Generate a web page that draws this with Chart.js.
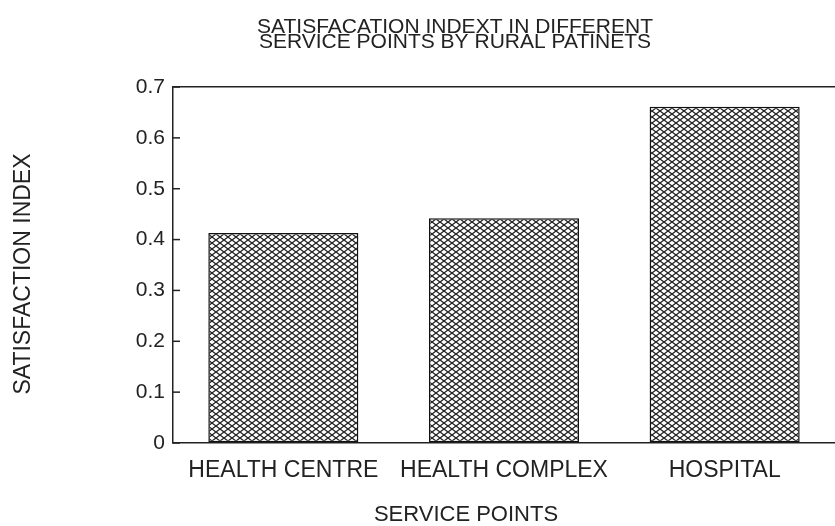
<!DOCTYPE html>
<html>
<head>
<meta charset="utf-8">
<script src="https://cdn.jsdelivr.net/npm/chart.js@4"></script>
<style>
  body { margin: 0; background: #fff; }
  canvas { display: block; }
</style>
</head>
<body>
<canvas id="chart" width="835" height="526"></canvas>
<script>
// values
const servicePoints = ['HEALTH CENTRE', 'HEALTH COMPLEX', 'HOSPITAL'];
const satisfactionIndex = [0.413, 0.442, 0.661];
const chartTitle = ['SATISFACATION INDEXT IN DIFFERENT', 'SERVICE POINTS BY RURAL PATINETS'];
const yTitle = 'SATISFACTION INDEX';
const xTitle = 'SERVICE POINTS';

const ink = '#222';
const fontFamily = '"Liberation Sans", Arial, sans-serif';

// cross hatch fill like the old printout
function makeHatch() {
  const tile = document.createElement('canvas');
  tile.width = 8;
  tile.height = 6;
  const c = tile.getContext('2d');
  c.fillStyle = '#fff';
  c.fillRect(0, 0, 8, 6);
  c.strokeStyle = '#222';
  c.lineWidth = 1.3;
  for (const dx of [-8, 0, 8]) {
    c.beginPath();
    c.moveTo(dx, 0); c.lineTo(dx + 8, 6);
    c.moveTo(dx, 6); c.lineTo(dx + 8, 0);
    c.stroke();
  }
  return document.getElementById('chart').getContext('2d').createPattern(tile, 'repeat');
}

// inward tick marks on the y axis + axis titles placed like the scan
const extras = {
  id: 'extras',
  afterDraw(chart) {
    const { ctx, scales } = chart;
    const y = scales.y;
    ctx.save();
    ctx.strokeStyle = ink;
    ctx.lineWidth = 1.5;
    y.ticks.forEach((t) => {
      const py = y.getPixelForValue(t.value);
      ctx.beginPath();
      ctx.moveTo(y.right, py);
      ctx.lineTo(y.right + 7, py);
      ctx.stroke();
    });
    ctx.fillStyle = ink;
    ctx.textAlign = 'center';
    ctx.textBaseline = 'middle';
    ctx.font = '22px ' + fontFamily;
    ctx.fillText(xTitle, 466, 515);
    ctx.font = '23px ' + fontFamily;
    ctx.translate(24, 274);
    ctx.rotate(-Math.PI / 2);
    ctx.fillText(yTitle, 0, 0);
    ctx.restore();
  }
};

new Chart(document.getElementById('chart'), {
  type: 'bar',
  data: {
    labels: servicePoints,
    datasets: [{
      data: satisfactionIndex,
      backgroundColor: makeHatch(),
      borderColor: '#111',
      borderWidth: 1.5,
      borderSkipped: false,
      barPercentage: 0.68,
      categoryPercentage: 1
    }]
  },
  options: {
    responsive: false,
    animation: false,
    layout: { padding: { left: 75, right: 0, top: 0, bottom: 0 } },
    plugins: {
      legend: { display: false },
      tooltip: { enabled: false },
      title: {
        display: true,
        text: chartTitle,
        color: ink,
        font: { family: fontFamily, size: 21, weight: 'normal', lineHeight: 0.71 },
        padding: { top: 20, bottom: 37.2 }
      }
    },
    scales: {
      x: {
        afterFit(s) { s.height = 83; },
        grid: { display: false, drawTicks: false },
        border: { display: true, color: ink, width: 1.5 },
        ticks: {
          color: ink,
          padding: 14,
          maxRotation: 0,
          autoSkip: false,
          font: { family: fontFamily, size: 23 }
        }
      },
      y: {
        min: 0,
        max: 0.7,
        afterFit(s) { s.width = 98; },
        grid: {
          drawTicks: false,
          lineWidth: 1.5,
          color: (c) => (c.index === 7 ? ink : 'rgba(0,0,0,0)')
        },
        border: { display: true, color: ink, width: 1.5 },
        ticks: {
          stepSize: 0.1,
          color: ink,
          padding: 8,
          font: { family: fontFamily, size: 21 },
          callback: (v) => (v === 0 ? '0' : v.toFixed(1))
        }
      }
    }
  },
  plugins: [extras]
});
</script>
</body>
</html>
